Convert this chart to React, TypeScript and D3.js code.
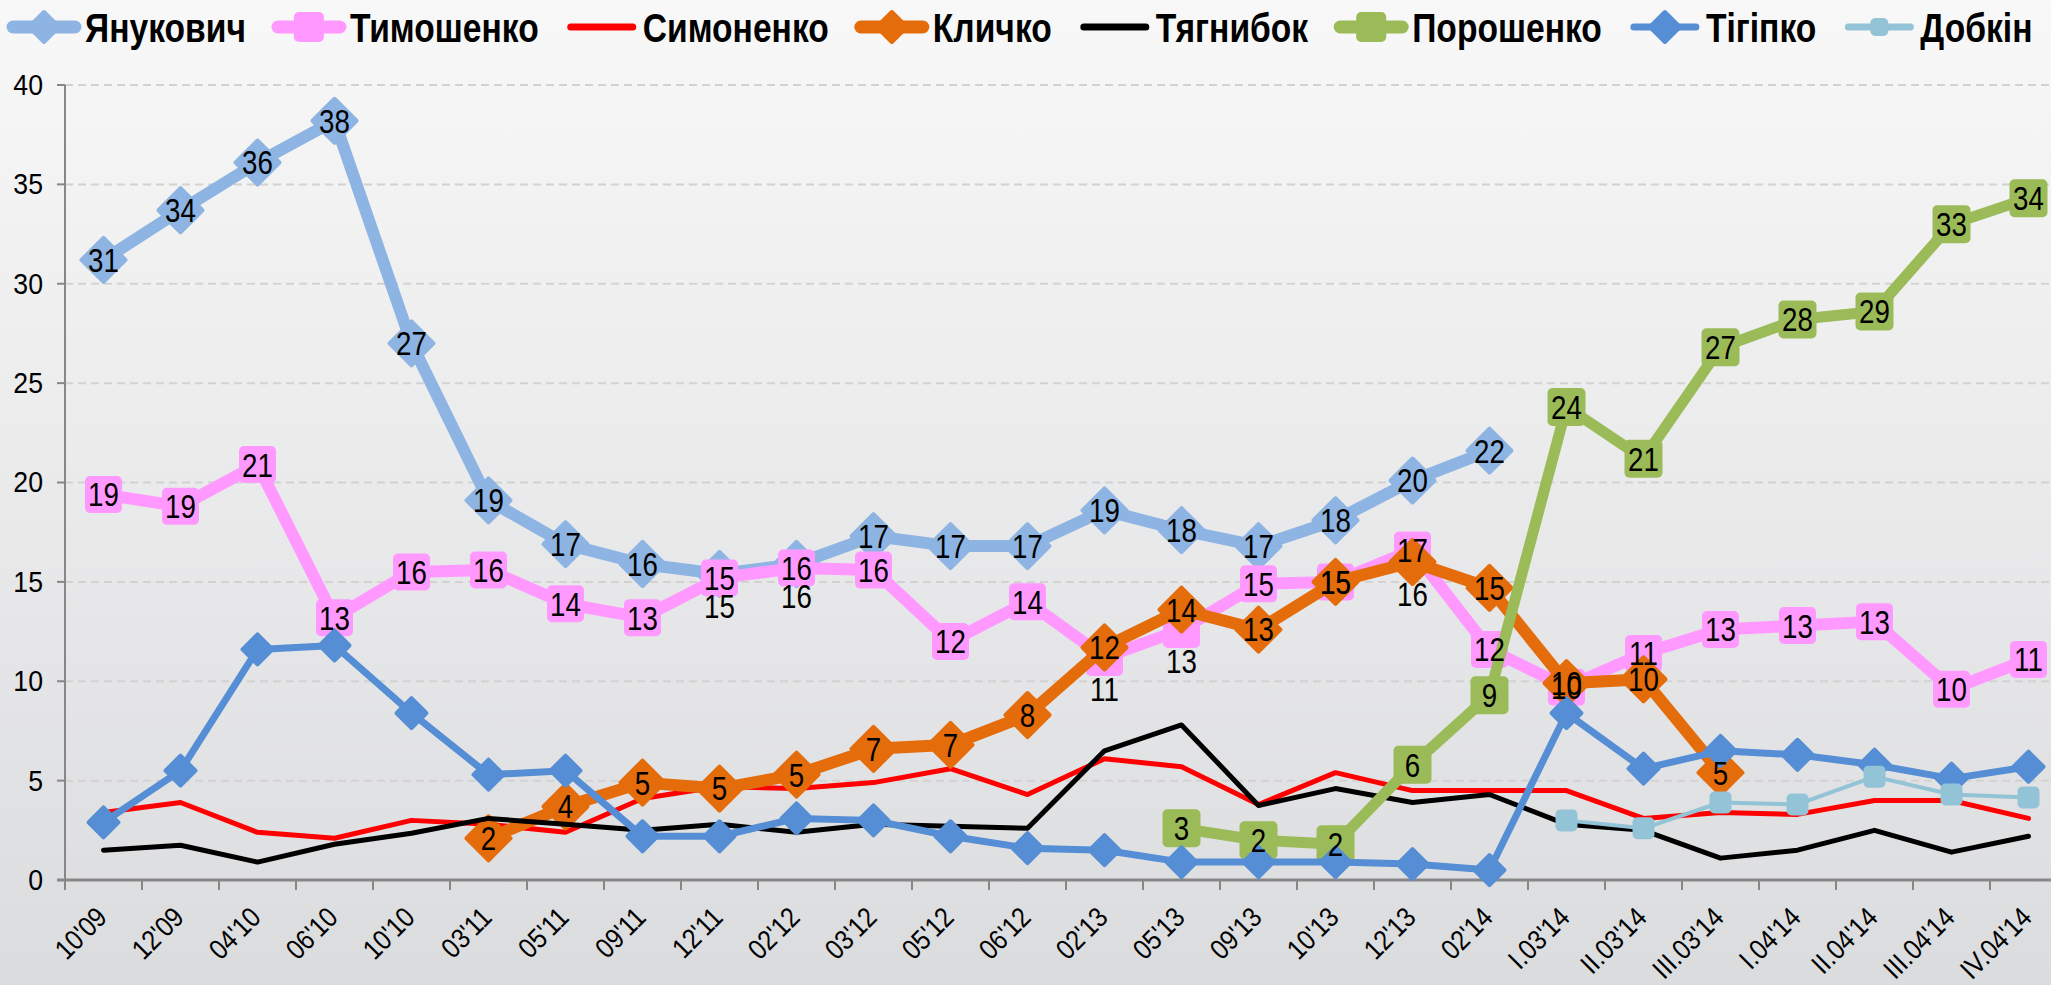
import React, { useEffect, useRef } from 'react';
import * as d3 from 'd3';

const categories = [
  "10'09", "12'09", "04'10", "06'10", "10'10", "03'11", "05'11", "09'11", "12'11",
  "02'12", "03'12", "05'12", "06'12", "02'13", "05'13", "09'13", "10'13", "12'13",
  "02'14", "I.03'14", "II.03'14", "III.03'14", "I.04'14", "II.04'14", "III.04'14", "IV.04'14"
];

const yanukovych = [31.2, 33.7, 36.1, 38.2, 27.0, 19.1, 16.9, 15.9, 15.4, 15.9, 17.3, 16.8, 16.8,
  18.6, 17.6, 16.8, 18.1, 20.1, 21.6, null, null, null, null, null, null, null];
const tymoshenko = [19.4, 18.8, 20.9, 13.2, 15.5, 15.6, 13.9, 13.2, 15.2, 15.7, 15.6, 12.0, 14.0,
  11.2, 12.6, 14.9, 15.0, 16.6, 11.6, 9.7, 11.4, 12.6, 12.8, 13.0, 9.6, 11.1];
const symonenko = [3.4, 3.9, 2.4, 2.1, 3.0, 2.8, 2.4, 4.1, 4.7, 4.6, 4.9, 5.6, 4.3,
  6.1, 5.7, 3.8, 5.4, 4.5, 4.5, 4.5, 3.1, 3.4, 3.3, 4.0, 4.0, 3.1];
const klitschko = [null, null, null, null, null, 2.1, 3.7, 4.9, 4.6, 5.3, 6.6, 6.8, 8.3,
  11.7, 13.6, 12.6, 15.0, 16.0, 14.7, 9.9, 10.1, 5.4, null, null, null, null];
const tyahnybok = [1.5, 1.75, 0.9, 1.8, 2.35, 3.1, 2.8, 2.5, 2.8, 2.4, 2.8, 2.7, 2.6,
  6.5, 7.8, 3.75, 4.6, 3.9, 4.3, 2.8, 2.5, 1.1, 1.5, 2.5, 1.4, 2.2];
const poroshenko = [null, null, null, null, null, null, null, null, null, null, null, null, null,
  null, 2.6, 2.0, 1.8, 5.8, 9.3, 23.8, 21.2, 26.8, 28.2, 28.6, 33.0, 34.3];
const tihipko = [2.9, 5.5, 11.6, 11.8, 8.4, 5.3, 5.5, 2.2, 2.2, 3.1, 3.0, 2.2, 1.6,
  1.5, 0.9, 0.9, 0.9, 0.8, 0.5, 8.4, 5.6, 6.5, 6.3, 5.8, 5.1, 5.7];
const dobkin = [null, null, null, null, null, null, null, null, null, null, null, null, null,
  null, null, null, null, null, null, 3.0, 2.6, 3.9, 3.8, 5.2, 4.3, 4.15];

const yTicks = [0, 5, 10, 15, 20, 25, 30, 35, 40];

// labels that Excel pushed below the point because of overlaps
const labelBelow: Record<string, number[]> = {
  'Янукович': [8, 9],
  'Тимошенко': [13, 14],
  'Кличко': [17],
};

type Series = {
  name: string; values: (number | null)[]; color: string; width: number;
  marker: 'diamond' | 'square' | 'none'; size: number; labels: boolean;
};

const series: Series[] = [
  { name: 'Янукович', values: yanukovych, color: '#8DB4E2', width: 12, marker: 'diamond', size: 22, labels: true },
  { name: 'Тимошенко', values: tymoshenko, color: '#FF99FF', width: 12, marker: 'square', size: 37, labels: true },
  { name: 'Симоненко', values: symonenko, color: '#FF0000', width: 5, marker: 'none', size: 0, labels: false },
  { name: 'Кличко', values: klitschko, color: '#E46C0A', width: 12, marker: 'diamond', size: 22, labels: true },
  { name: 'Тягнибок', values: tyahnybok, color: '#000000', width: 5, marker: 'none', size: 0, labels: false },
  { name: 'Порошенко', values: poroshenko, color: '#9BBB59', width: 11, marker: 'square', size: 38, labels: true },
  { name: 'Тігіпко', values: tihipko, color: '#558ED5', width: 7, marker: 'diamond', size: 15, labels: false },
  { name: 'Добкін', values: dobkin, color: '#93C3D6', width: 4, marker: 'square', size: 22, labels: false },
];

const W = 2051;
const H = 985;
const FONT = "'Liberation Sans', Arial, sans-serif";
const NARROW = 0.84;

function drawMarker(g: any, kind: string, size: number, color: string) {
  if (kind === 'diamond') {
    g.append('path')
      .attr('d', `M0,${-size}L${size},0L0,${size}L${-size},0Z`)
      .attr('fill', color)
      .attr('stroke', color)
      .attr('stroke-width', 4)
      .attr('stroke-linejoin', 'round');
  } else if (kind === 'square') {
    g.append('rect')
      .attr('x', -size / 2).attr('y', -size / 2)
      .attr('width', size).attr('height', size)
      .attr('rx', 5)
      .attr('fill', color);
  }
}

export default function App() {
  const svgRef = useRef<SVGSVGElement>(null);

  useEffect(() => {
    const svg = d3.select(svgRef.current);
    svg.selectAll('*').remove();

    const left = 65, top = 85, bottom = 880, step = 77;

    const x = d3.scaleBand<string>()
      .domain(categories)
      .range([left, left + step * categories.length]);
    const y = d3.scaleLinear().domain([0, 40]).range([bottom, top]);
    const cx = (i: number) => (x(categories[i]) as number) + x.bandwidth() / 2;

    const defs = svg.append('defs');
    const grad = defs.append('linearGradient')
      .attr('id', 'bg').attr('x1', 0).attr('y1', 0).attr('x2', 0).attr('y2', 1);
    grad.append('stop').attr('offset', '0%').attr('stop-color', '#f8f8f8');
    grad.append('stop').attr('offset', '100%').attr('stop-color', '#dbdcde');

    svg.append('rect').attr('width', W).attr('height', H).attr('fill', 'url(#bg)');

    // grid
    svg.append('g')
      .selectAll('line')
      .data(yTicks.filter(d => d > 0))
      .join('line')
      .attr('x1', left).attr('x2', W)
      .attr('y1', d => y(d)).attr('y2', d => y(d))
      .attr('stroke', '#d2d2d2')
      .attr('stroke-width', 2)
      .attr('stroke-dasharray', '8,5');

    // y axis
    const axisColor = '#878787';
    svg.append('line')
      .attr('x1', left).attr('x2', left).attr('y1', top).attr('y2', bottom)
      .attr('stroke', axisColor).attr('stroke-width', 2);
    svg.append('g')
      .selectAll('line')
      .data(yTicks)
      .join('line')
      .attr('x1', left - 8).attr('x2', left)
      .attr('y1', d => y(d)).attr('y2', d => y(d))
      .attr('stroke', axisColor).attr('stroke-width', 2);
    svg.append('g')
      .selectAll('text')
      .data(yTicks)
      .join('text')
      .attr('transform', d => `translate(${left - 22},${y(d)}) scale(0.92,1)`)
      .attr('text-anchor', 'end')
      .attr('dominant-baseline', 'central')
      .style('font-family', FONT)
      .style('font-size', '29px')
      .attr('fill', '#000')
      .text(d => d);

    // x axis
    svg.append('line')
      .attr('x1', left - 8).attr('x2', W).attr('y1', bottom).attr('y2', bottom)
      .attr('stroke', axisColor).attr('stroke-width', 3);
    svg.append('g')
      .selectAll('line')
      .data(d3.range(categories.length + 1))
      .join('line')
      .attr('x1', i => left + i * x.step()).attr('x2', i => left + i * x.step())
      .attr('y1', bottom).attr('y2', bottom + 10)
      .attr('stroke', axisColor).attr('stroke-width', 2);
    svg.append('g')
      .selectAll('text')
      .data(categories)
      .join('text')
      .attr('transform', (d, i) => `translate(${cx(i) + 5},${bottom + 39}) rotate(-45) scale(0.88,1)`)
      .attr('text-anchor', 'end')
      .style('font-family', FONT)
      .style('font-size', '28px')
      .attr('fill', '#000')
      .text(d => d);

    // series lines + markers
    series.forEach(s => {
      const pts = s.values.map((v, i) => ({ v, i }));
      const line = d3.line<{ v: number | null; i: number }>()
        .defined(d => d.v != null)
        .x(d => cx(d.i))
        .y(d => y(d.v as number));
      svg.append('path')
        .datum(pts)
        .attr('d', line)
        .attr('fill', 'none')
        .attr('stroke', s.color)
        .attr('stroke-width', s.width)
        .attr('stroke-linejoin', 'round')
        .attr('stroke-linecap', 'round');
      if (s.marker !== 'none') {
        pts.filter(d => d.v != null).forEach(d => {
          const g = svg.append('g').attr('transform', `translate(${cx(d.i)},${y(d.v as number)})`);
          drawMarker(g, s.marker, s.size, s.color);
        });
      }
    });

    // data labels
    series.filter(s => s.labels).forEach(s => {
      const below = labelBelow[s.name] || [];
      s.values.forEach((v, i) => {
        if (v == null) return;
        const dy = below.includes(i) ? 32 : 0;
        svg.append('text')
          .attr('transform', `translate(${cx(i)},${y(v) + dy}) scale(${NARROW},1)`)
          .attr('text-anchor', 'middle')
          .attr('dominant-baseline', 'central')
          .style('font-family', FONT)
          .style('font-size', '33px')
          .attr('fill', '#000')
          .text(Math.round(v));
      });
    });

    // legend
    let lx = 13;
    const ly = 27;
    series.forEach(s => {
      const g = svg.append('g');
      g.append('line')
        .attr('x1', lx).attr('x2', lx + 62).attr('y1', ly).attr('y2', ly)
        .attr('stroke', s.color)
        .attr('stroke-width', s.width >= 10 ? 13 : 7)
        .attr('stroke-linecap', 'round');
      if (s.marker !== 'none') {
        const mg = g.append('g').attr('transform', `translate(${lx + 31},${ly})`);
        drawMarker(mg, s.marker, s.marker === 'diamond' ? 15 : (s.size > 30 ? 30 : 18), s.color);
      }
      const t = g.append('text')
        .attr('transform', `translate(${lx + 72},${ly + 15}) scale(0.82,1)`)
        .style('font-family', FONT)
        .style('font-size', '41px')
        .style('font-weight', 'bold')
        .attr('fill', '#000')
        .text(s.name);
      const tw = (t.node() as SVGTextElement).getComputedTextLength() * 0.82;
      lx = lx + 72 + tw + 32;
    });
  }, []);

  return (
    <div style={{ position: 'absolute', left: 0, top: 0 }}>
      <svg ref={svgRef} width={W} height={H} style={{ display: 'block' }} />
    </div>
  );
}
